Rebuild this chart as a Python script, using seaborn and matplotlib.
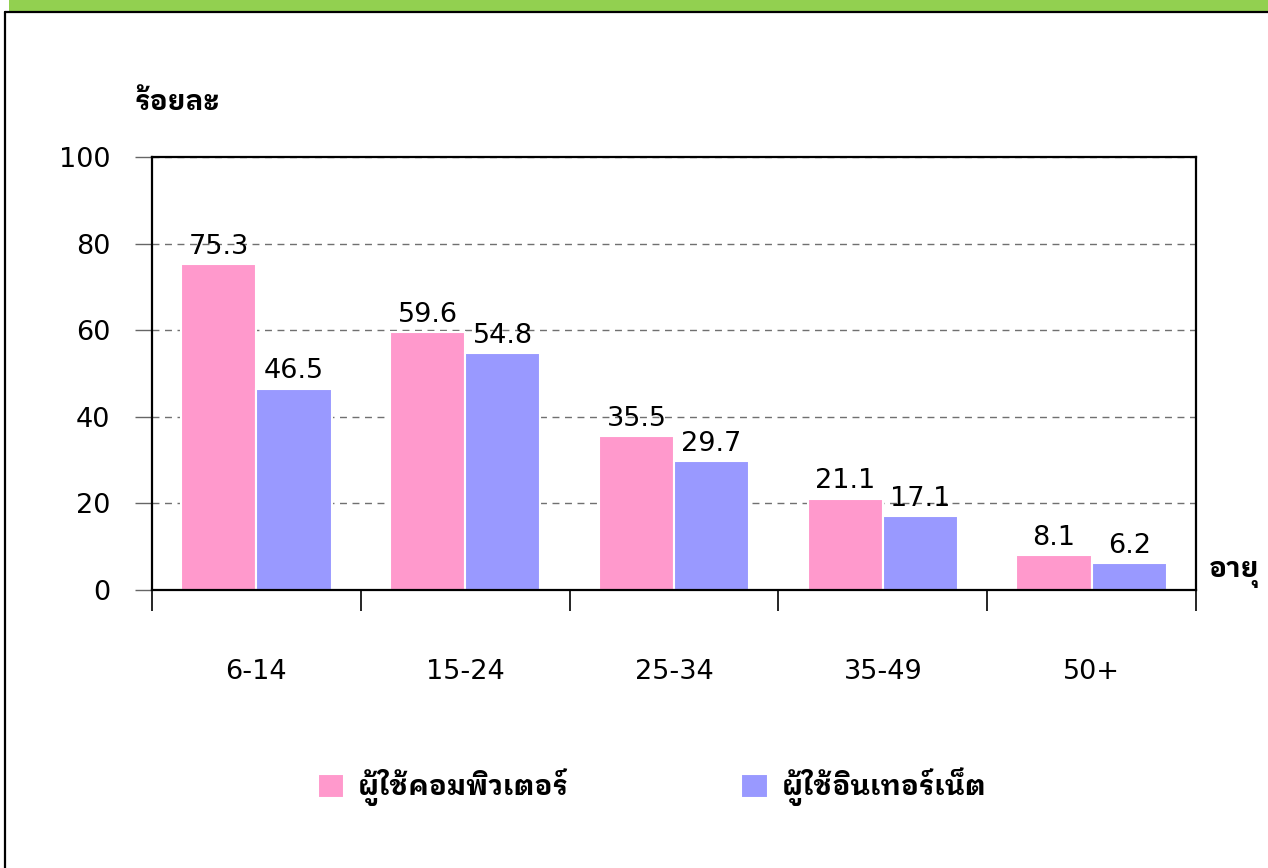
import matplotlib
matplotlib.use("Agg")
import matplotlib.pyplot as plt
from matplotlib.patches import Rectangle
import seaborn as sns
import pandas as pd

age_groups = ["6-14", "15-24", "25-34", "35-49", "50+"]
computer_users = [75.3, 59.6, 35.5, 21.1, 8.1]
internet_users = [46.5, 54.8, 29.7, 17.1, 6.2]
series_names = ["ผู้ใช้คอมพิวเตอร์", "ผู้ใช้อินเทอร์เน็ต"]
bar_colors = ["#FF99CC", "#9999FF"]
y_ticks = [0, 20, 40, 60, 80, 100]

df = pd.DataFrame({
    "age": age_groups * 2,
    "series": [series_names[0]] * len(age_groups) + [series_names[1]] * len(age_groups),
    "pct": computer_users + internet_users,
})

sns.set_style("white")
plt.rcParams["font.family"] = ["DejaVu Sans", "Noto Sans Thai Looped"]
plt.rcParams["text.color"] = "black"
plt.rcParams["xtick.color"] = "black"
plt.rcParams["ytick.color"] = "black"
thai_font = ["IBM Plex Sans Thai Looped", "Noto Sans Thai Looped", "DejaVu Sans"]

W, H = 1268, 868
fig = plt.figure(figsize=(W / 100, H / 100), dpi=100)

# green band and outer frame
fig.patches.append(Rectangle((9 / W, 1 - 11 / H), 1, 11 / H, transform=fig.transFigure,
                             facecolor="#92D050", edgecolor="none", zorder=0))
fig.add_artist(plt.Line2D([4.5 / W, 4.5 / W], [0, 1 - 12 / H], transform=fig.transFigure,
                          color="black", lw=1.6))
fig.add_artist(plt.Line2D([4.5 / W, 1], [1 - 12 / H, 1 - 12 / H], transform=fig.transFigure,
                          color="black", lw=1.6))

ax = fig.add_axes([152 / W, 1 - 590 / H, (1196 - 152) / W, (590 - 157) / H])
sns.barplot(data=df, x="age", y="pct", hue="series", palette=bar_colors,
            width=0.72, edgecolor="white", linewidth=1.5, saturation=1,
            ax=ax, legend=True)

ax.set_ylim(0, 100)
ax.set_xlim(-0.5, len(age_groups) - 0.5)
ax.set_yticks(y_ticks)
ax.set_yticklabels([str(v) for v in y_ticks], fontsize=19.5)
ax.tick_params(axis="y", length=12, width=1, color="#666666", pad=18, left=True,
               labelcolor="black")

# category boundaries as major ticks, labels on minor ticks
ax.set_xticks([i - 0.5 for i in range(len(age_groups) + 1)])
ax.set_xticklabels([""] * (len(age_groups) + 1))
ax.set_xticks(range(len(age_groups)), minor=True)
ax.set_xticklabels(age_groups, minor=True, fontsize=19.5)
ax.tick_params(axis="x", which="major", length=15, width=1.2, color="black", bottom=True)
ax.tick_params(axis="x", which="minor", length=0, pad=50, labelcolor="black")

ax.set_axisbelow(True)
ax.yaxis.grid(True, linestyle=(0, (5, 4)), color="#707070", linewidth=1)
for spine in ax.spines.values():
    spine.set_visible(True)
    spine.set_color("black")
    spine.set_linewidth(1.6)

ax.set_xlabel("")
ax.set_ylabel("")

for container in ax.containers:
    ax.bar_label(container, fmt="%.1f", fontsize=19.5, padding=3, color="black")

handles, labels = ax.get_legend_handles_labels()
ax.legend(handles, labels, loc="center", bbox_to_anchor=(652 / W, 1 - 787 / H),
          bbox_transform=fig.transFigure, ncol=2, frameon=False,
          prop={"family": thai_font, "size": 20, "weight": "bold"},
          handlelength=0.95, handleheight=0.95, handletextpad=0.5, columnspacing=6.2)

fig.text(135 / W, 1 - 103 / H, "ร้อยละ", fontsize=20, fontweight="bold", va="center",
         ha="left", family=thai_font)
fig.text(1209 / W, 1 - 575 / H, "อายุ", fontsize=20, fontweight="bold", va="center",
         ha="left", family=thai_font)

fig.savefig("out.png", dpi=100, facecolor="white")
